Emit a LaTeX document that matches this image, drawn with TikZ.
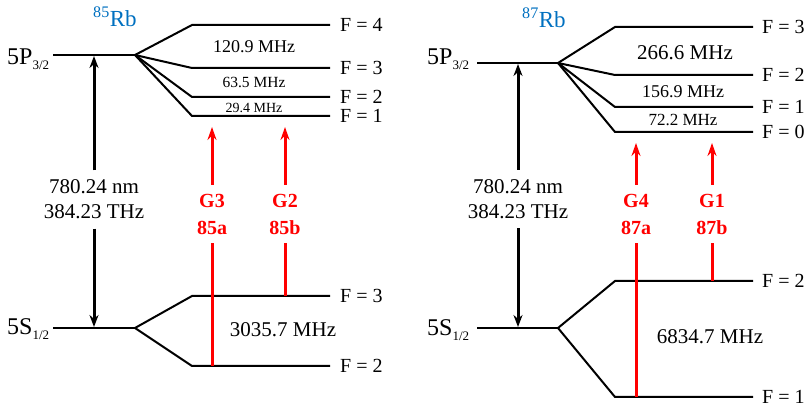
\documentclass[tikz,border=0pt]{standalone}
\usepackage{fontspec}
\setmainfont{Liberation Serif}
\usetikzlibrary{arrows.meta}
\definecolor{rbblue}{RGB}{0,112,192}
\definecolor{arrred}{RGB}{255,0,0}
\newcommand{\stsub}[1]{{\fontsize{13}{13}\selectfont\raisebox{-5pt}{#1}}}
\begin{document}
\begin{tikzpicture}[x=1pt,y=-1pt,
 level/.style={line width=2pt, black},
 flabel/.style={anchor=west, inner sep=0pt, font=\fontsize{20}{24}\selectfont},
 statelabel/.style={anchor=base west, inner sep=0pt, font=\fontsize{24}{28}\selectfont},
 isolabel/.style={anchor=base west, text=rbblue, inner sep=0pt, font=\fontsize{23}{27}\selectfont},
 freqbig/.style={inner sep=0pt, font=\fontsize{21}{25}\selectfont},
 wavelabel/.style={align=center, inner sep=0pt, minimum height=58pt, font=\fontsize{21}{25}\selectfont},
 glabel/.style={align=center, inner sep=0pt, minimum height=58pt, text=arrred, font=\bfseries\fontsize{20}{27}\selectfont},
 blackarrow/.style={line width=3pt, -{Stealth[length=12pt,width=9pt]}},
 redarrow/.style={line width=3pt, arrred, -{Stealth[length=13pt,width=9pt]}},
 redline/.style={line width=3pt, arrred},
]
\useasboundingbox (0,0) rectangle (809,411);

% ================= 85Rb =================
\node[isolabel] (iso85) at (93,27) {\textsuperscript{85}Rb};
\node[statelabel] (p85lab) at (7,65) {5P\stsub{3/2}};
\node[statelabel] (s85lab) at (7,335) {5S\stsub{1/2}};

\coordinate (p85a) at (53,55);  \coordinate (p85b) at (135,55);
\coordinate (f4a) at (192,25);  \coordinate (f4b) at (330,25);
\coordinate (f3a) at (192,68);  \coordinate (f3b) at (330,68);
\coordinate (f2a) at (192,97);  \coordinate (f2b) at (330,97);
\coordinate (f1a) at (192,116); \coordinate (f1b) at (330,116);
\draw[level] (p85a) -- (p85b);
\draw[level] (p85b) -- (f4a) -- (f4b);
\draw[level] (p85b) -- (f3a) -- (f3b);
\draw[level] (p85b) -- (f2a) -- (f2b);
\draw[level] (p85b) -- (f1a) -- (f1b);
\node[flabel] (lf4) at (340,25) {F = 4};
\node[flabel] (lf3) at (340,68) {F = 3};
\node[flabel] (lf2) at (340,97) {F = 2};
\node[flabel] (lf1) at (340,116) {F = 1};
\node[inner sep=0pt, font=\fontsize{18}{22}\selectfont] (m1209) at (254,47) {120.9 MHz};
\node[inner sep=0pt, font=\fontsize{15.5}{19}\selectfont] (m635) at (254,82) {63.5 MHz};
\node[inner sep=0pt, font=\fontsize{14}{17}\selectfont] (m294) at (254,107.5) {29.4 MHz};

\coordinate (s85a) at (53,328);  \coordinate (s85b) at (135,328);
\coordinate (g3a) at (192,296);  \coordinate (g3b) at (330,296);
\coordinate (g2a) at (192,366);  \coordinate (g2b) at (330,366);
\draw[level] (s85a) -- (s85b);
\draw[level] (s85b) -- (g3a) -- (g3b);
\draw[level] (s85b) -- (g2a) -- (g2b);
\node[flabel] (lg3) at (340,296) {F = 3};
\node[flabel] (lg2) at (340,366) {F = 2};
\node[freqbig] (m30357) at (283,330) {3035.7 MHz};

% black transition arrow
\node[wavelabel] (w85) at (94,199.5) {780.24 nm\\384.23 THz};
\coordinate (w85top) at (94,56);
\coordinate (w85bot) at (94,327);
\draw[blackarrow] (w85.north) -- (w85top);
\draw[blackarrow] (w85.south) -- (w85bot);

% red arrows
\node[glabel] (G3) at (212,214) {G3\\85a};
\node[glabel] (G2) at (285,214) {G2\\85b};
\coordinate (G3tip) at (212,127); \coordinate (G3base) at (212,366);
\coordinate (G2tip) at (285,127); \coordinate (G2base) at (285,296);
\draw[redarrow] (G3.north) -- (G3tip);
\draw[redline] (G3.south) -- (G3base);
\draw[redarrow] (G2.north) -- (G2tip);
\draw[redline] (G2.south) -- (G2base);

% ================= 87Rb =================
\node[isolabel] (iso87) at (522,28) {\textsuperscript{87}Rb};
\node[statelabel] (p87lab) at (427,65) {5P\stsub{3/2}};
\node[statelabel] (s87lab) at (427,336) {5S\stsub{1/2}};

\coordinate (p87a) at (477,63);  \coordinate (p87b) at (558,63);
\coordinate (e3a) at (615,27);   \coordinate (e3b) at (753,27);
\coordinate (e2a) at (615,75);   \coordinate (e2b) at (753,75);
\coordinate (e1a) at (615,107);  \coordinate (e1b) at (753,107);
\coordinate (e0a) at (615,132);  \coordinate (e0b) at (753,132);
\draw[level] (p87a) -- (p87b);
\draw[level] (p87b) -- (e3a) -- (e3b);
\draw[level] (p87b) -- (e2a) -- (e2b);
\draw[level] (p87b) -- (e1a) -- (e1b);
\draw[level] (p87b) -- (e0a) -- (e0b);
\node[flabel] (le3) at (762,27) {F = 3};
\node[flabel] (le2) at (762,75) {F = 2};
\node[flabel] (le1) at (762,107) {F = 1};
\node[flabel] (le0) at (762,132) {F = 0};
\node[freqbig] (m2666) at (685,53) {266.6 MHz};
\node[inner sep=0pt, font=\fontsize{18}{22}\selectfont] (m1569) at (683,92) {156.9 MHz};
\node[inner sep=0pt, font=\fontsize{17}{20}\selectfont] (m722) at (683,119.5) {72.2 MHz};

\coordinate (s87a) at (477,328);  \coordinate (s87b) at (558,328);
\coordinate (h2a) at (615,281);   \coordinate (h2b) at (753,281);
\coordinate (h1a) at (615,397);   \coordinate (h1b) at (753,397);
\draw[level] (s87a) -- (s87b);
\draw[level] (s87b) -- (h2a) -- (h2b);
\draw[level] (s87b) -- (h1a) -- (h1b);
\node[flabel] (lh2) at (762,281) {F = 2};
\node[flabel] (lh1) at (762,397) {F = 1};
\node[freqbig] (m68347) at (710,336.5) {6834.7 MHz};

% black transition arrow
\node[wavelabel] (w87) at (518,199) {780.24 nm\\384.23 THz};
\coordinate (w87top) at (518,64);
\coordinate (w87bot) at (518,327);
\draw[blackarrow] (w87.north) -- (w87top);
\draw[blackarrow] (w87.south) -- (w87bot);

% red arrows
\node[glabel] (G4) at (636,214) {G4\\87a};
\node[glabel] (G1) at (712,214) {G1\\87b};
\coordinate (G4tip) at (636,143); \coordinate (G4base) at (636,397);
\coordinate (G1tip) at (712,143); \coordinate (G1base) at (712,281);
\draw[redarrow] (G4.north) -- (G4tip);
\draw[redline] (G4.south) -- (G4base);
\draw[redarrow] (G1.north) -- (G1tip);
\draw[redline] (G1.south) -- (G1base);
\end{tikzpicture}
\end{document}
